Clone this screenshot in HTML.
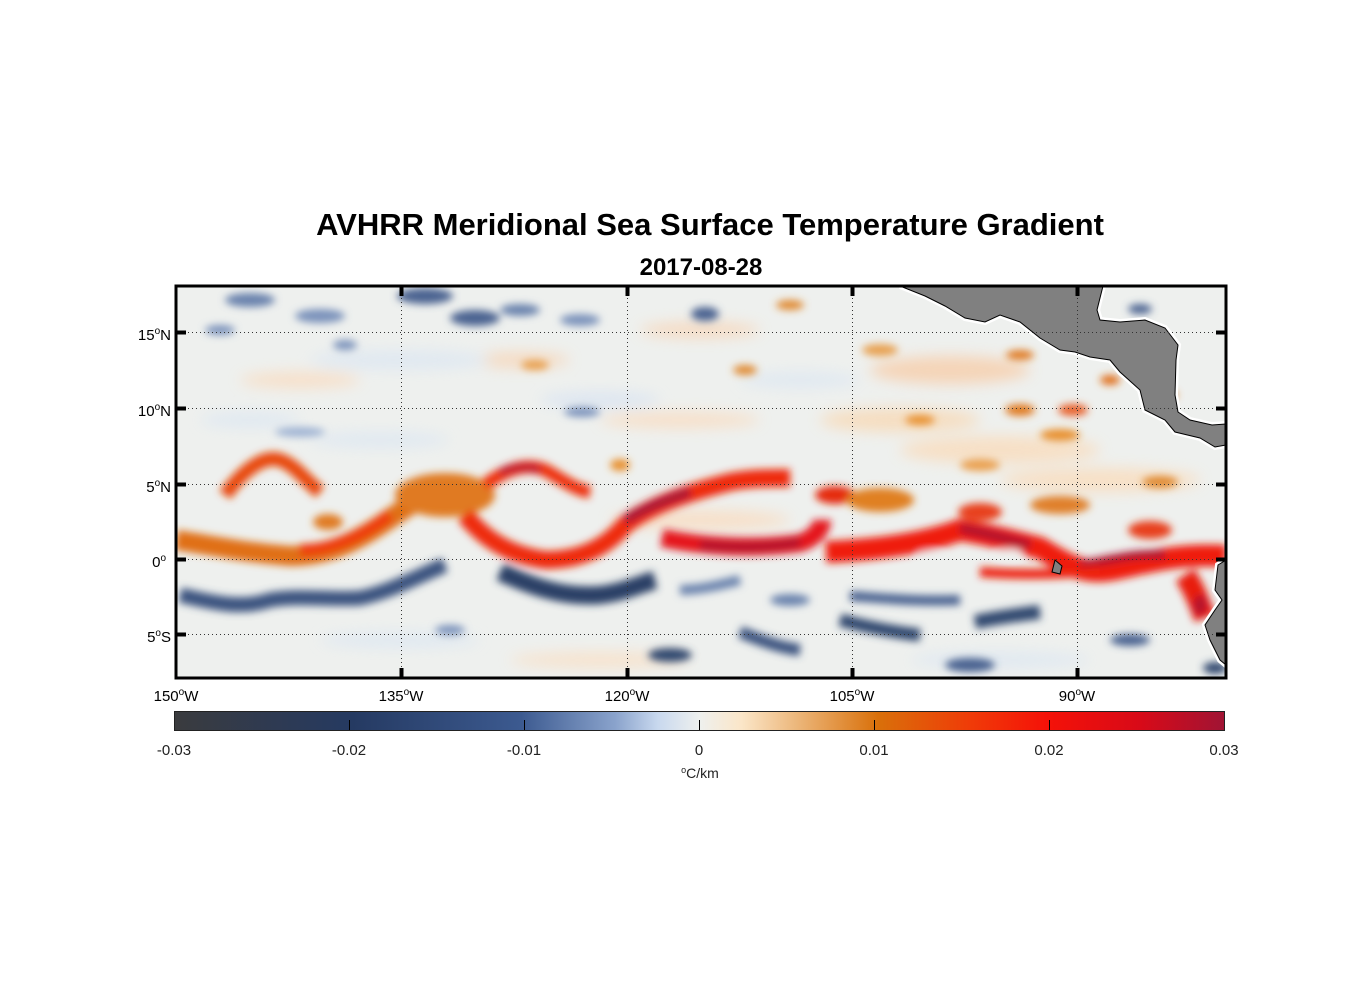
<!DOCTYPE html>
<html><head><meta charset="utf-8"><style>
body{margin:0;background:#fff;}
svg{display:block;font-family:"Liberation Sans",Arial,sans-serif;}
</style></head><body>
<svg width="1356" height="1000" viewBox="0 0 1356 1000" xmlns="http://www.w3.org/2000/svg">
<defs>
<filter id="b" x="-20%" y="-20%" width="140%" height="140%"><feGaussianBlur stdDeviation="4"/></filter>
<filter id="b2" x="-20%" y="-20%" width="140%" height="140%"><feGaussianBlur stdDeviation="7"/></filter>
<clipPath id="c"><rect x="176" y="286" width="1050" height="392"/></clipPath>
<linearGradient id="cb" x1="0" x2="1">
<stop offset="0" stop-color="#3a3b3e"/>
<stop offset="0.17" stop-color="#253a62"/>
<stop offset="0.33" stop-color="#3c5a90"/>
<stop offset="0.42" stop-color="#8aa3cc"/>
<stop offset="0.46" stop-color="#c8d8ee"/>
<stop offset="0.5" stop-color="#eef0ee"/>
<stop offset="0.54" stop-color="#fbe6c8"/>
<stop offset="0.6" stop-color="#eab070"/>
<stop offset="0.67" stop-color="#d9700a"/>
<stop offset="0.76" stop-color="#f03a08"/>
<stop offset="0.83" stop-color="#f51208"/>
<stop offset="0.92" stop-color="#d80a18"/>
<stop offset="1" stop-color="#a01434"/>
</linearGradient>
</defs>
<text x="710" y="235" font-size="31" font-weight="bold" text-anchor="middle">AVHRR Meridional Sea Surface Temperature Gradient</text>
<text x="701" y="275" font-size="24" font-weight="bold" text-anchor="middle">2017-08-28</text>
<g clip-path="url(#c)">
<rect x="176" y="286" width="1050" height="392" fill="#eef0ee"/>
<g filter="url(#b2)" opacity="0.8">
<ellipse cx="300" cy="380" rx="60" ry="8" fill="#f9dcc0"/>
<ellipse cx="520" cy="360" rx="50" ry="8" fill="#f7d6b8"/>
<ellipse cx="700" cy="330" rx="60" ry="8" fill="#f7d6b8"/>
<ellipse cx="950" cy="370" rx="80" ry="14" fill="#f7ceaa"/>
<ellipse cx="1000" cy="450" rx="100" ry="14" fill="#f9dcbc"/>
<ellipse cx="900" cy="420" rx="80" ry="12" fill="#f8d9b5"/>
<ellipse cx="680" cy="420" rx="80" ry="8" fill="#f9dcc0"/>
<ellipse cx="380" cy="440" rx="70" ry="8" fill="#dde7f2"/>
<ellipse cx="600" cy="400" rx="60" ry="8" fill="#d8e3f2"/>
<ellipse cx="250" cy="420" rx="50" ry="8" fill="#dde7f2"/>
<ellipse cx="800" cy="380" rx="60" ry="8" fill="#dde7f2"/>
<ellipse cx="1100" cy="480" rx="100" ry="12" fill="#f9dcbc"/>
<ellipse cx="400" cy="640" rx="80" ry="8" fill="#dde7f2"/>
<ellipse cx="600" cy="660" rx="90" ry="8" fill="#f9e0c6"/>
<ellipse cx="1000" cy="660" rx="90" ry="8" fill="#dde7f2"/>
<ellipse cx="700" cy="520" rx="90" ry="10" fill="#f9dcc0"/>
<ellipse cx="400" cy="360" rx="90" ry="10" fill="#dde7f2"/>
</g>
<g filter="url(#b)">
<ellipse cx="250" cy="300" rx="25" ry="7" fill="#6b83ad"/>
<ellipse cx="320" cy="316" rx="25" ry="7" fill="#7b93bb"/>
<ellipse cx="425" cy="296" rx="28" ry="8" fill="#4b6491"/>
<ellipse cx="475" cy="318" rx="25" ry="8" fill="#4b6491"/>
<ellipse cx="520" cy="310" rx="20" ry="6" fill="#6b83ad"/>
<ellipse cx="580" cy="320" rx="20" ry="6" fill="#7b93bb"/>
<ellipse cx="705" cy="314" rx="14" ry="7" fill="#4b6491"/>
<ellipse cx="345" cy="345" rx="12" ry="5" fill="#7b93bb"/>
<ellipse cx="220" cy="330" rx="15" ry="5" fill="#7b93bb"/>
<ellipse cx="582" cy="412" rx="18" ry="5" fill="#7b93bb"/>
<ellipse cx="300" cy="432" rx="25" ry="5" fill="#9fb3d3"/>
<ellipse cx="1140" cy="309" rx="12" ry="5" fill="#4b6491"/>
<ellipse cx="535" cy="365" rx="14" ry="5" fill="#e8a050"/>
<ellipse cx="790" cy="305" rx="14" ry="5" fill="#e08a30"/>
<ellipse cx="1020" cy="355" rx="14" ry="5" fill="#e07a20"/>
<ellipse cx="1020" cy="410" rx="15" ry="6" fill="#e07a20"/>
<ellipse cx="1073" cy="410" rx="15" ry="6" fill="#e8602a"/>
<ellipse cx="1110" cy="380" rx="10" ry="5" fill="#e0701c"/>
<ellipse cx="1165" cy="395" rx="12" ry="5" fill="#e0701c"/>
<ellipse cx="920" cy="420" rx="15" ry="5" fill="#e8902e"/>
<ellipse cx="1060" cy="435" rx="20" ry="6" fill="#e8902e"/>
<ellipse cx="1160" cy="482" rx="18" ry="6" fill="#e08a30"/>
<ellipse cx="880" cy="350" rx="18" ry="6" fill="#e8a050"/>
<ellipse cx="745" cy="370" rx="12" ry="5" fill="#e08a30"/>
<ellipse cx="620" cy="465" rx="10" ry="6" fill="#e8902e"/>
<ellipse cx="980" cy="465" rx="20" ry="6" fill="#eaa050"/>
<!-- warm bands -->
<path d="M176,540 C210,545 240,552 290,556 C330,556 360,540 395,515 C410,505 425,495 440,490" stroke="#e07018" stroke-width="20" fill="none"/>
<path d="M300,550 C330,550 360,538 390,515" stroke="#ee3a10" stroke-width="12" fill="none"/>
<path d="M225,495 C245,468 265,455 280,460 C295,465 305,480 320,492" stroke="#e84a10" stroke-width="14" fill="none"/>
<ellipse cx="445" cy="495" rx="50" ry="22" fill="#e07a20"/>
<ellipse cx="328" cy="522" rx="15" ry="8" fill="#e07a20"/>
<path d="M465,515 C485,540 510,555 545,560 C580,560 605,548 625,525 C650,505 690,492 730,482 C750,478 770,478 790,478" stroke="#ee2a08" stroke-width="18" fill="none"/>
<path d="M625,520 C645,508 665,500 690,492" stroke="#a81836" stroke-width="10" fill="none"/>
<path d="M485,485 C505,470 525,462 545,470 C560,478 575,490 590,492" stroke="#ee3010" stroke-width="13" fill="none"/>
<path d="M500,472 C515,466 530,466 540,470" stroke="#b81a30" stroke-width="7" fill="none"/>
<path d="M662,538 C700,546 750,550 800,543 C815,538 822,528 822,520" stroke="#e5141a" stroke-width="18" fill="none"/>
<path d="M700,545 C740,548 770,548 800,542" stroke="#b0152e" stroke-width="9" fill="none"/>
<ellipse cx="835" cy="495" rx="20" ry="9" fill="#e52a10"/>
<ellipse cx="880" cy="500" rx="34" ry="12" fill="#e08020"/>
<path d="M826,552 C870,550 920,545 960,530 C990,535 1010,540 1040,548 C1060,560 1080,575 1110,570 C1140,565 1170,553 1226,556" stroke="#ef1c08" stroke-width="22" fill="none"/>
<path d="M960,528 C990,534 1010,540 1030,545" stroke="#b0152e" stroke-width="10" fill="none"/>
<path d="M1080,565 C1110,560 1140,552 1165,555" stroke="#b0152e" stroke-width="9" fill="none"/>
<path d="M980,572 C1020,575 1060,575 1100,570" stroke="#ee2008" stroke-width="10" fill="none"/>
<path d="M1185,575 C1195,590 1200,605 1205,618" stroke="#e81c10" stroke-width="22" fill="none"/>
<ellipse cx="1200" cy="605" rx="6" ry="10" fill="#b0152e"/>
<ellipse cx="980" cy="512" rx="22" ry="9" fill="#e8401a"/>
<ellipse cx="1150" cy="530" rx="22" ry="9" fill="#e8401a"/>
<ellipse cx="1060" cy="505" rx="30" ry="9" fill="#e0802a"/>
<ellipse cx="930" cy="555" rx="12" ry="4" fill="#eef0ee"/>
<ellipse cx="1010" cy="553" rx="12" ry="4" fill="#eef0ee"/>
<!-- blue bands -->
<path d="M180,595 C210,602 240,610 270,600 C300,595 330,600 360,598 C390,592 420,575 445,565" stroke="#3d5580" stroke-width="15" fill="none"/>
<path d="M500,572 C530,585 560,598 600,595 C625,592 640,584 655,580" stroke="#2b3f66" stroke-width="18" fill="none"/>
<path d="M680,590 C700,590 720,585 740,580" stroke="#6b83ad" stroke-width="10" fill="none"/>
<path d="M740,632 C760,640 780,648 800,650" stroke="#3d5580" stroke-width="12" fill="none"/>
<path d="M840,620 C860,625 890,632 920,635" stroke="#33496f" stroke-width="13" fill="none"/>
<path d="M850,596 C880,598 920,602 960,600" stroke="#4a6290" stroke-width="10" fill="none"/>
<path d="M975,622 C995,618 1015,615 1040,612" stroke="#33496f" stroke-width="14" fill="none"/>
<ellipse cx="670" cy="655" rx="22" ry="7" fill="#33496f"/>
<ellipse cx="970" cy="665" rx="25" ry="7" fill="#4a6290"/>
<ellipse cx="1130" cy="640" rx="20" ry="6" fill="#4a6290"/>
<ellipse cx="1215" cy="668" rx="12" ry="6" fill="#33496f"/>
<ellipse cx="790" cy="600" rx="20" ry="6" fill="#6b83ad"/>
<ellipse cx="450" cy="630" rx="15" ry="5" fill="#7b93bb"/>
</g>
<g stroke="#fff" stroke-width="6" fill="#fff">
<path d="M900,286 L925,296 L945,306 L965,318 L985,322 L1000,315 L1020,322 L1040,338 L1060,350 L1075,352 L1090,357 L1110,360 L1120,372 L1140,390 L1145,410 L1165,420 L1175,432 L1200,438 L1215,447 L1226,445 L1226,424 L1212,425 L1190,420 L1178,412 L1175,395 L1176,360 L1178,345 L1165,328 L1145,320 L1120,322 L1100,320 L1097,310 L1103,286 Z"/>
<path d="M1226,560 L1218,565 L1215,590 L1222,600 L1215,610 L1205,625 L1210,640 L1220,660 L1226,665 Z"/>
</g>
<g stroke="#000" stroke-width="1" fill="#808080">
<path d="M900,286 L925,296 L945,306 L965,318 L985,322 L1000,315 L1020,322 L1040,338 L1060,350 L1075,352 L1090,357 L1110,360 L1120,372 L1140,390 L1145,410 L1165,420 L1175,432 L1200,438 L1215,447 L1226,445 L1226,424 L1212,425 L1190,420 L1178,412 L1175,395 L1176,360 L1178,345 L1165,328 L1145,320 L1120,322 L1100,320 L1097,310 L1103,286 Z"/>
<path d="M1226,560 L1218,565 L1215,590 L1222,600 L1215,610 L1205,625 L1210,640 L1220,660 L1226,665 Z"/>
<path d="M1055,560 L1062,566 L1060,574 L1052,572 Z"/>
</g>
<g stroke="#333" stroke-width="1" stroke-dasharray="1,3">
<line x1="176" x2="1226" y1="332.5" y2="332.5"/>
<line x1="176" x2="1226" y1="408.5" y2="408.5"/>
<line x1="176" x2="1226" y1="484.5" y2="484.5"/>
<line x1="176" x2="1226" y1="559.5" y2="559.5"/>
<line x1="176" x2="1226" y1="634.5" y2="634.5"/>
<line x1="401.5" x2="401.5" y1="286" y2="678"/>
<line x1="627.5" x2="627.5" y1="286" y2="678"/>
<line x1="852.5" x2="852.5" y1="286" y2="678"/>
<line x1="1077.5" x2="1077.5" y1="286" y2="678"/>
</g>
</g>
<rect x="176" y="286" width="1050" height="392" fill="none" stroke="#000" stroke-width="3"/>
<g stroke="#000" stroke-width="4">
<line x1="176" x2="186" y1="332.5" y2="332.5"/><line x1="1216" x2="1226" y1="332.5" y2="332.5"/>
<line x1="176" x2="186" y1="408.5" y2="408.5"/><line x1="1216" x2="1226" y1="408.5" y2="408.5"/>
<line x1="176" x2="186" y1="484.5" y2="484.5"/><line x1="1216" x2="1226" y1="484.5" y2="484.5"/>
<line x1="176" x2="186" y1="559.5" y2="559.5"/><line x1="1216" x2="1226" y1="559.5" y2="559.5"/>
<line x1="176" x2="186" y1="634.5" y2="634.5"/><line x1="1216" x2="1226" y1="634.5" y2="634.5"/>
<line x1="401.5" x2="401.5" y1="286" y2="296"/><line x1="401.5" x2="401.5" y1="668" y2="678"/>
<line x1="627.5" x2="627.5" y1="286" y2="296"/><line x1="627.5" x2="627.5" y1="668" y2="678"/>
<line x1="852.5" x2="852.5" y1="286" y2="296"/><line x1="852.5" x2="852.5" y1="668" y2="678"/>
<line x1="1077.5" x2="1077.5" y1="286" y2="296"/><line x1="1077.5" x2="1077.5" y1="668" y2="678"/>
</g>
<g font-size="15" text-anchor="end">
<text x="171" y="340">15<tspan font-size="10" dy="-6">o</tspan><tspan dy="6">N</tspan></text>
<text x="171" y="416">10<tspan font-size="10" dy="-6">o</tspan><tspan dy="6">N</tspan></text>
<text x="171" y="492">5<tspan font-size="10" dy="-6">o</tspan><tspan dy="6">N</tspan></text>
<text x="166" y="567">0<tspan font-size="10" dy="-6">o</tspan></text>
<text x="171" y="642">5<tspan font-size="10" dy="-6">o</tspan><tspan dy="6">S</tspan></text>
</g>
<g font-size="15" text-anchor="middle">
<text x="176" y="701">150<tspan font-size="10" dy="-6">o</tspan><tspan dy="6">W</tspan></text>
<text x="401" y="701">135<tspan font-size="10" dy="-6">o</tspan><tspan dy="6">W</tspan></text>
<text x="627" y="701">120<tspan font-size="10" dy="-6">o</tspan><tspan dy="6">W</tspan></text>
<text x="852" y="701">105<tspan font-size="10" dy="-6">o</tspan><tspan dy="6">W</tspan></text>
<text x="1077" y="701">90<tspan font-size="10" dy="-6">o</tspan><tspan dy="6">W</tspan></text>
</g>
<rect x="174.5" y="711.5" width="1050" height="19" fill="url(#cb)" stroke="#222" stroke-width="1"/>
<g stroke="#000" stroke-width="1">
<line x1="349.5" x2="349.5" y1="720" y2="730"/><line x1="524.5" x2="524.5" y1="720" y2="730"/>
<line x1="699.5" x2="699.5" y1="720" y2="730"/><line x1="874.5" x2="874.5" y1="720" y2="730"/>
<line x1="1049.5" x2="1049.5" y1="720" y2="730"/>
</g>
<g font-size="15" text-anchor="middle" fill="#222">
<text x="174" y="755">-0.03</text><text x="349" y="755">-0.02</text><text x="524" y="755">-0.01</text>
<text x="699" y="755">0</text><text x="874" y="755">0.01</text><text x="1049" y="755">0.02</text><text x="1224" y="755">0.03</text>
<text x="700" y="778" font-size="14"><tspan font-size="9" dy="-5">o</tspan><tspan dy="5">C/km</tspan></text>
</g>
</svg>
</body></html>
